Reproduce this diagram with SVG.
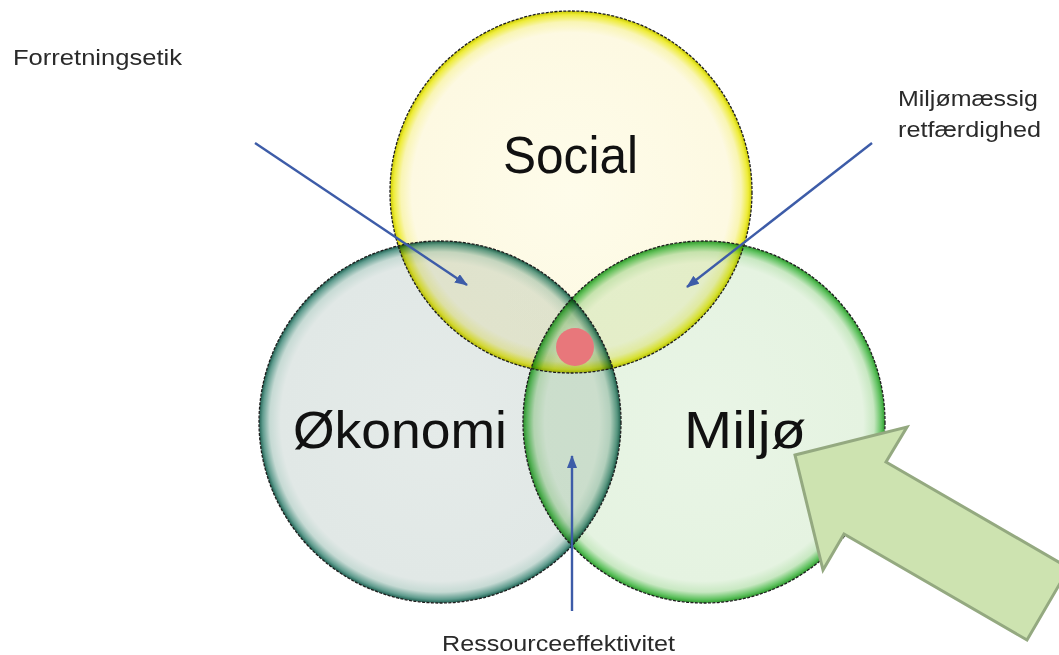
<svg xmlns="http://www.w3.org/2000/svg" width="1059" height="655" viewBox="0 0 1059 655">
<style>
.fill{mix-blend-mode:multiply}
.edge{fill:none;stroke:#1e1e1e;stroke-width:1.3;stroke-dasharray:3 1.4}
.big{font-family:"Liberation Sans",Arial,sans-serif;font-size:52px;fill:#111}
.small{font-family:"Liberation Sans",Arial,sans-serif;font-size:22px;fill:#2a2a2a}
.conn{fill:none;stroke:#3d5ca8;stroke-width:2.4}
</style>
<defs>
<radialGradient id="gS" cx="50%" cy="50%" r="50%">
<stop offset="0" stop-color="#fefcea"/>
<stop offset="0.88" stop-color="#fdf9e2"/>
<stop offset="0.94" stop-color="#f9f5b4"/>
<stop offset="0.98" stop-color="#eeec38"/>
<stop offset="1" stop-color="#c9c900"/>
</radialGradient>
<radialGradient id="gO" cx="50%" cy="50%" r="50%">
<stop offset="0" stop-color="#e5ebe9"/>
<stop offset="0.88" stop-color="#e1e8e6"/>
<stop offset="0.94" stop-color="#c6dad4"/>
<stop offset="0.98" stop-color="#5f9c8e"/>
<stop offset="1" stop-color="#1d5e50"/>
</radialGradient>
<radialGradient id="gM" cx="50%" cy="50%" r="50%">
<stop offset="0" stop-color="#e9f5e6"/>
<stop offset="0.88" stop-color="#e5f3e1"/>
<stop offset="0.94" stop-color="#c8e8c2"/>
<stop offset="0.98" stop-color="#60c260"/>
<stop offset="1" stop-color="#2e9a2e"/>
</radialGradient>
<marker id="ah" markerUnits="userSpaceOnUse" markerWidth="13" markerHeight="11" refX="12" refY="5" orient="auto">
<path d="M0,0 L13,5 L0,10 z" fill="#3d5ca8"/>
</marker>
</defs>
<rect width="1059" height="655" fill="#ffffff"/>

<g id="okonomi">
<circle class="fill" cx="440" cy="422" r="181" fill="url(#gO)"/>
</g>
<g id="miljo">
<circle class="fill" cx="704" cy="422" r="181" fill="url(#gM)"/>
</g>
<g id="social">
<circle class="fill" cx="571" cy="192" r="181" fill="url(#gS)"/>
</g>
<g id="outlines">
<circle class="edge" cx="440" cy="422" r="181"/>
<circle class="edge" cx="704" cy="422" r="181"/>
<circle class="edge" cx="571" cy="192" r="181"/>
</g>
<g id="labels-main">
<text class="big" x="503" y="173" textLength="135" lengthAdjust="spacingAndGlyphs">Social</text>
<text class="big" x="293" y="448" textLength="214" lengthAdjust="spacingAndGlyphs">Økonomi</text>
<text class="big" x="684" y="448" textLength="122" lengthAdjust="spacingAndGlyphs">Miljø</text>
</g>
<g id="center-dot">
<circle cx="575" cy="347" r="19" fill="#e8777b"/>
</g>

<g id="connectors">
<line class="conn" x1="255" y1="143" x2="467" y2="285" marker-end="url(#ah)"/>
<line class="conn" x1="872" y1="143" x2="687" y2="287" marker-end="url(#ah)"/>
<line class="conn" x1="572" y1="611" x2="572" y2="456" marker-end="url(#ah)"/>
</g>

<g id="forretningsetik">
<text class="small" x="13" y="65" textLength="169" lengthAdjust="spacingAndGlyphs">Forretningsetik</text>
</g>
<g id="miljoemaessig">
<text class="small" x="898" y="106" textLength="140" lengthAdjust="spacingAndGlyphs">Miljømæssig</text>
<text class="small" x="898" y="137" textLength="143" lengthAdjust="spacingAndGlyphs">retfærdighed</text>
</g>
<g id="ressource">
<text class="small" x="442" y="651" textLength="233" lengthAdjust="spacingAndGlyphs">Ressourceeffektivitet</text>
</g>

<g id="green-arrow">
<polygon points="795,455 907,427 886,462 1069,568 1027,640 844,534 823,570" fill="#cde3b0" stroke="#94a980" stroke-width="3" stroke-linejoin="miter"/>
</g>
</svg>
